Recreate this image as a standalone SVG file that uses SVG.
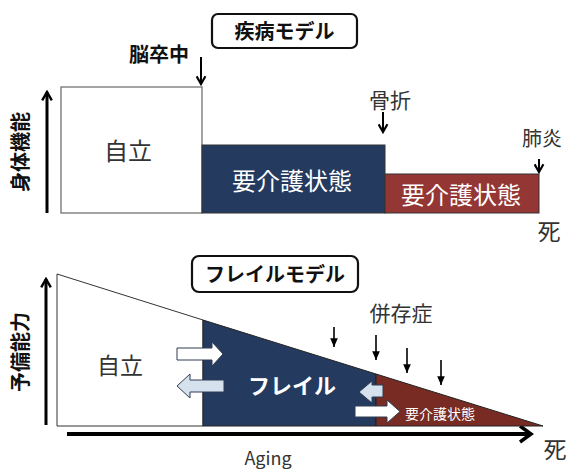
<svg xmlns="http://www.w3.org/2000/svg" width="569" height="470" viewBox="0 0 569 470">
<defs>
<style>
text{font-family:"Noto Sans CJK JP","Noto Sans",sans-serif;fill:#333;}
.b{font-weight:bold;fill:#111;}
.w{fill:#fff;}
.ax{stroke:#000;stroke-width:3;fill:none;}
.thin{stroke:#000;stroke-width:1.6;fill:none;}
.title{fill:#fff;stroke:#111;stroke-width:2.2;}
</style>
<marker id="ah" viewBox="0 0 10 10" refX="8" refY="5" markerWidth="4" markerHeight="4" orient="auto"><path d="M1,1 L8,5 L1,9" fill="none" stroke="#000" stroke-width="2"/></marker>
<marker id="ahd" viewBox="0 0 10 10" refX="8" refY="5" markerWidth="5.5" markerHeight="5.5" orient="auto"><path d="M1,1 L8,5 L1,9" fill="none" stroke="#000" stroke-width="2"/></marker>
<marker id="ah2" viewBox="0 0 10 10" refX="9" refY="5" markerWidth="6" markerHeight="6" orient="auto"><path d="M0,1 L9,5 L0,9 Z" fill="#000"/></marker>
</defs>
<rect width="569" height="470" fill="#fff"/>

<!-- Top: disease model -->
<g id="title1">
<rect class="title" x="212" y="14" width="145" height="34" rx="6"/>
<text class="b" x="284.5" y="39" font-size="20" text-anchor="middle">疾病モデル</text>
</g>
<g id="axis1">
<line class="ax" x1="47" y1="213" x2="47" y2="92" marker-end="url(#ah)"/>
<text class="b" font-size="20" text-anchor="middle" transform="translate(28,152) rotate(-90)">身体機能</text>
</g>
<g id="jiritsu1">
<rect x="61" y="87" width="141" height="126" fill="#fff" stroke="#666" stroke-width="1.2"/>
<text x="128" y="160" font-size="24" text-anchor="middle">自立</text>
</g>
<g id="kaigo1">
<rect x="202" y="145" width="183" height="68" fill="#243a5e" stroke="#333" stroke-width="1"/>
<text class="w" x="292" y="190" font-size="24" text-anchor="middle">要介護状態</text>
</g>
<g id="kaigo2">
<rect x="385" y="174" width="154" height="39" fill="#943634" stroke="#333" stroke-width="1"/>
<text class="w" x="461" y="204" font-size="24" text-anchor="middle">要介護状態</text>
</g>
<g id="labels1">
<text class="b" x="159" y="62" font-size="20" text-anchor="middle">脳卒中</text>
<text x="390" y="108" font-size="21" text-anchor="middle">骨折</text>
<text x="542" y="146" font-size="20" text-anchor="middle">肺炎</text>
<text x="549" y="240" font-size="23" text-anchor="middle">死</text>
</g>
<g id="connectors">
<line x1="201" y1="57" x2="201" y2="84" stroke="#000" stroke-width="2" marker-end="url(#ahd)"/>
<line x1="383" y1="112" x2="383" y2="132" stroke="#000" stroke-width="2" marker-end="url(#ahd)"/>
<line x1="539" y1="159" x2="539" y2="172" stroke="#000" stroke-width="2" marker-end="url(#ahd)"/>
<line x1="334" y1="327" x2="334" y2="347" class="thin" marker-end="url(#ah2)"/>
<line x1="376" y1="335" x2="376" y2="360" class="thin" marker-end="url(#ah2)"/>
<line x1="407" y1="348" x2="407" y2="373" class="thin" marker-end="url(#ah2)"/>
<line x1="441" y1="360" x2="441" y2="385" class="thin" marker-end="url(#ah2)"/>
</g>

<!-- Bottom: frailty model -->
<g id="title2">
<rect class="title" x="192" y="256" width="166" height="36" rx="7"/>
<text class="b" x="275" y="282" font-size="20" text-anchor="middle">フレイルモデル</text>
</g>
<g id="axis2">
<line class="ax" x1="46" y1="425" x2="46" y2="279" marker-end="url(#ah)"/>
<text class="b" font-size="20" text-anchor="middle" transform="translate(28,352) rotate(-90)">予備能力</text>
<line x1="67" y1="434" x2="530" y2="434" stroke="#000" stroke-width="4"/>
<path d="M520,426 L531,434 L520,442" fill="none" stroke="#000" stroke-width="3.5"/>
<text x="268" y="465" font-size="18" text-anchor="middle">Aging</text>
<text x="555" y="458" font-size="23" text-anchor="middle">死</text>
</g>
<g id="jiritsu2">
<polygon points="57,274 203,320 203,426 57,426" fill="#fff" stroke="#333" stroke-width="1"/>
<text x="120" y="374" font-size="23" text-anchor="middle">自立</text>
</g>
<g id="frail">
<polygon points="203,320 376,374 376,426 203,426" fill="#243a5e" stroke="#222" stroke-width="1"/>
<text class="w" x="292" y="394" font-size="22" font-weight="bold" text-anchor="middle">フレイル</text>
</g>
<g id="kaigo3">
<polygon points="376,374 543,426 376,426" fill="#772b23" stroke="#222" stroke-width="1"/>
<text class="w" x="440" y="419" font-size="14" text-anchor="middle">要介護状態</text>
</g>
<g id="comorbidity">
<text x="401" y="321" font-size="21" text-anchor="middle">併存症</text>
</g>
<g id="block-arrows" stroke="#2f3d52" stroke-width="1">
<polygon points="177,348 212,348 212,342 223,354 212,366 212,360 177,360" fill="#fff"/>
<polygon points="224,380 190,380 190,374 177,386 190,398 190,392 224,392" fill="#d5e2ee"/>
<polygon points="383,385 372,385 372,381 359,392 372,403 372,397 383,397" fill="#d5e2ee"/>
<polygon points="355,406 387,406 387,400 400,411.5 387,423 387,417 355,417" fill="#fff"/>
</g>
</svg>
